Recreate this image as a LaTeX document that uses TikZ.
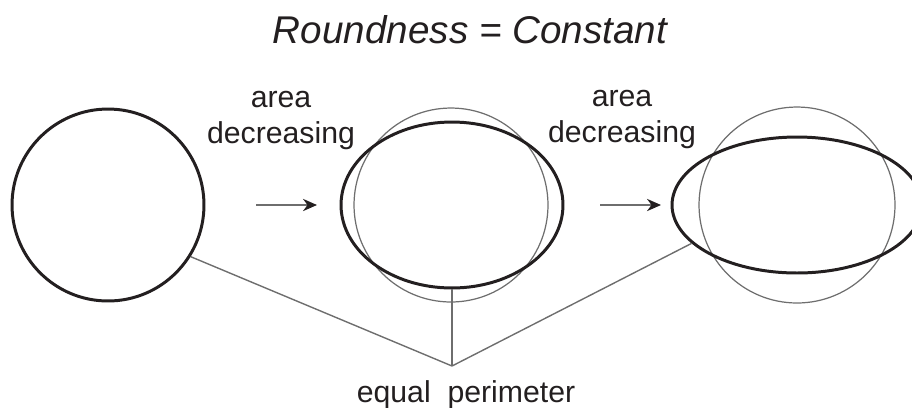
\documentclass[tikz,border=0pt]{standalone}
\usepackage{fontspec}
\setmainfont{Liberation Sans}
\usetikzlibrary{shapes.geometric,arrows.meta}
\definecolor{inkgray}{HTML}{231F20}
\definecolor{linegray}{HTML}{6E6E6E}
\begin{document}
\begin{tikzpicture}[x=0.02cm, y=-0.02cm,
  bold/.style={draw=inkgray, line width=1.7pt, inner sep=0pt},
  ref/.style={circle, draw=linegray, line width=0.7pt, inner sep=0pt},
  lbl/.style={text=inkgray, font=\fontsize{17.2}{20}\selectfont, inner sep=0pt, anchor=base},
  link/.style={draw=linegray, line width=0.8pt},
  pointer/.style={draw=linegray, line width=0.9pt, -{Stealth[inkgray, length=8pt, width=7pt]}}
]
\useasboundingbox (0,0) rectangle (912,407);
\clip (0,0) rectangle (912,407);

% title
\node[lbl, font=\fontsize{22}{26}\selectfont\itshape] (title) at (470,43) {Roundness = Constant};

% shapes
\node[bold, circle, minimum size=3.84cm] (round) at (108,205) {};
\node[ref, minimum size=3.88cm] (refB) at (451,205) {};
\node[bold, ellipse, minimum width=4.44cm, minimum height=3.32cm] (ovalB) at (452,205) {};
\node[ref, minimum size=3.92cm] (refC) at (797,205) {};
\node[bold, ellipse, minimum width=5.0cm, minimum height=2.72cm] (ovalC) at (797,205) {};

% arrows and labels
\coordinate (arrAs) at (256,205);
\coordinate (arrAe) at (317,205);
\coordinate (arrBs) at (600,205);
\coordinate (arrBe) at (661,205);
\draw[pointer] (arrAs) -- (arrAe);
\draw[pointer] (arrBs) -- (arrBe);
\node[lbl] (areaA) at (281,107) {area};
\node[lbl] (decA) at (281,143) {decreasing};
\node[lbl] (areaB) at (622,106) {area};
\node[lbl] (decB) at (622,142) {decreasing};

% equal perimeter
\coordinate (apex) at (452,366);
\draw[link] (round.-32) -- (apex);
\draw[link] (ovalB.south) -- (apex);
\draw[link] (ovalC.200) -- (apex);
\node[lbl] (perim) at (466,402) {equal\ \ perimeter};
\end{tikzpicture}
\end{document}
